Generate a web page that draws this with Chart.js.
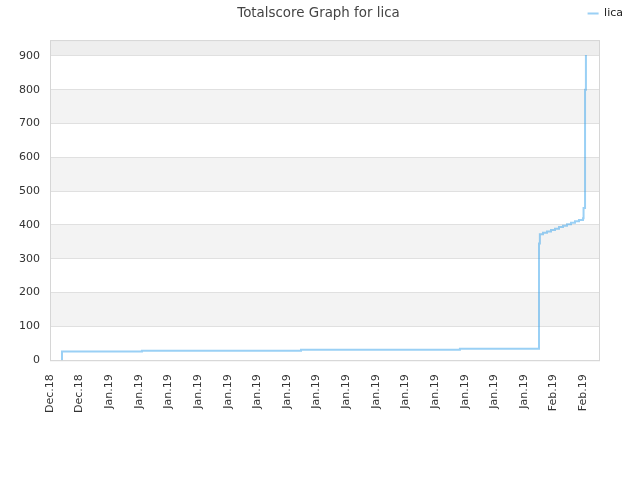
<!DOCTYPE html>
<html>
<head>
<meta charset="utf-8">
<script src="https://cdn.jsdelivr.net/npm/chart.js@4/dist/chart.umd.min.js"></script>
<style>
html,body{margin:0;padding:0;background:#fff;}
#wrap{width:640px;height:480px;}
</style>
</head>
<body>
<div id="wrap"><canvas id="c" width="640" height="480"></canvas></div>
<script>
// x values: days since first tick (Dec.18)
const tickLabels = ["Dec.18","Dec.18","Jan.19","Jan.19","Jan.19","Jan.19","Jan.19","Jan.19","Jan.19","Jan.19","Jan.19","Jan.19","Jan.19","Jan.19","Jan.19","Jan.19","Jan.19","Feb.19","Feb.19"];
const tickStepDays = 2;
const xMaxDays = 37.14;
const yMax = 947;
const seriesName = "lica";
const dayValues = [0.81, 0.81, 6.21, 16.95, 27.68, 33.02, 33.08, 33.29, 33.56, 33.83, 34.10, 34.37, 34.64, 34.91, 35.18, 35.45, 35.72, 35.99, 36.03, 36.13, 36.19];
const scoreValues = [0, 26, 28, 31, 34, 345, 373, 377, 381, 385, 389, 394, 398, 402, 407, 411, 415, 420, 450, 800, 903];

const bandsPlugin = {
  id: 'bands',
  afterLayout(chart) {
    if (chart.legend) {
      chart.legend.left += 44;
      chart.legend.right += 44;
    }
    const t = chart.titleBlock;
    if (t) {
      t.left += 14;
      t.right += 14;
    }
  },
  beforeDraw(chart) {
    const {ctx, chartArea: a, scales: {y}} = chart;
    ctx.save();
    ctx.fillStyle = '#f3f3f3';
    for (let v = 100; v < 900; v += 200) {
      const t = y.getPixelForValue(v + 100), b = y.getPixelForValue(v);
      ctx.fillRect(a.left, t, a.right - a.left, b - t);
    }
    ctx.fillStyle = '#eeeeee';
    const t9 = y.getPixelForValue(900);
    ctx.fillRect(a.left, a.top, a.right - a.left, t9 - a.top);
    ctx.restore();
  },
  beforeDatasetsDraw(chart) {
    const {ctx, chartArea: a} = chart;
    ctx.save();
    ctx.strokeStyle = '#d6d6d6';
    ctx.lineWidth = 1;
    ctx.strokeRect(a.left + 0.5, a.top + 0.5, a.right - a.left - 1, a.bottom - a.top);
    ctx.restore();
  }
};

new Chart(document.getElementById('c'), {
  type: 'line',
  data: {
    datasets: [{
      label: seriesName,
      data: dayValues.map((d, i) => ({x: d, y: scoreValues[i]})),
      borderColor: 'rgba(54,162,235,0.5)',
      backgroundColor: 'rgba(54,162,235,0.5)',
      borderWidth: 2,
      pointRadius: 0,
      stepped: 'before',
      fill: false
    }]
  },
  plugins: [bandsPlugin],
  options: {
    responsive: false,
    animation: false,
    layout: {padding: {left: 9, right: 40, top: -13, bottom: 61}},
    plugins: {
      title: {
        display: true,
        weight: 500,
        text: 'Totalscore Graph for lica',
        color: '#444',
        font: {family: 'DejaVu Sans', size: 13.4, weight: 'normal'},
        padding: {top: -24, bottom: 19}
      },
      legend: {
        display: true,
        position: 'top',
        align: 'end',
        labels: {
          boxWidth: 11,
          boxHeight: 0,
          color: '#222',
          font: {family: 'DejaVu Sans', size: 11},
          padding: 21
        }
      },
      tooltip: {enabled: false}
    },
    scales: {
      x: {
        type: 'linear',
        min: 0,
        max: xMaxDays,
        afterBuildTicks(scale) {
          scale.ticks = tickLabels.map((l, i) => ({value: i * tickStepDays}));
        },
        ticks: {
          autoSkip: false,
          maxRotation: 90,
          minRotation: 90,
          color: '#333',
          font: {family: 'DejaVu Sans', size: 11},
          padding: 6,
          callback: (v, i) => tickLabels[i]
        },
        grid: {display: false},
        border: {display: false}
      },
      y: {
        min: 0,
        max: yMax,
        ticks: {
          stepSize: 100,
          includeBounds: false,
          color: '#333',
          font: {family: 'DejaVu Sans', size: 11},
          padding: 10
        },
        grid: {color: '#e0e0e0', drawTicks: false},
        border: {display: false}
      }
    }
  }
});
</script>
</body>
</html>
